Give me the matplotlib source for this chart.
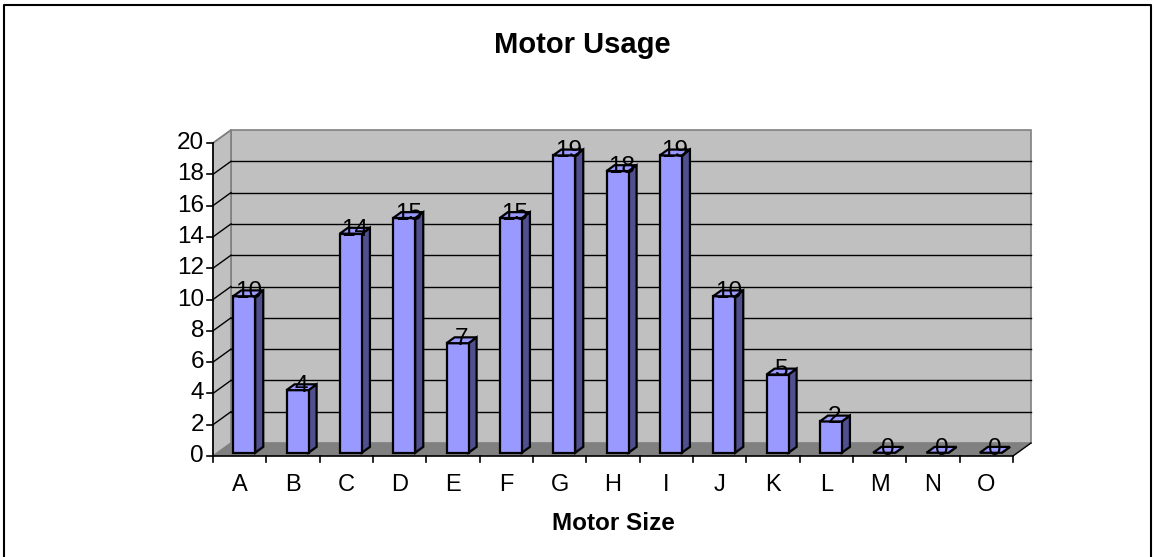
import matplotlib
matplotlib.use("Agg")
import matplotlib.pyplot as plt
from matplotlib.patches import Polygon

plt.rcParams['font.family'] = ['Liberation Sans', 'DejaVu Sans']

categories = ["A", "B", "C", "D", "E", "F", "G", "H", "I", "J", "K", "L", "M", "N", "O"]
values = [10, 4, 14, 15, 7, 15, 19, 18, 19, 10, 5, 2, 0, 0, 0]
yticks = [0, 2, 4, 6, 8, 10, 12, 14, 16, 18, 20]
title = "Motor Usage"
xlabel = "Motor Size"

W, H = 1154, 557
fig = plt.figure(figsize=(W / 100, H / 100), dpi=100)
ax = fig.add_axes([0, 0, 1, 1])

# pixel mapping of the plot frame
px0, px1 = 213, 1013      # front x-axis extent
py0, py20 = 456, 143      # y=0 and y=20 pixel rows
n = len(categories)
ymax = 20
sx = (px1 - px0) / n
sy = (py0 - py20) / ymax
ax.set_xlim(-px0 / sx, (W - px0) / sx)
ax.set_ylim(-(H - py0) / sy, py0 / sy)
ax.axis('off')

# depth offsets in data units
dx = 18 / sx
dy = 13 / sy

wall = '#c0c0c0'
floor = '#808080'
# back wall
ax.add_patch(Polygon([(dx, dy), (n + dx, dy), (n + dx, ymax + dy), (dx, ymax + dy)],
                     closed=True, fc=wall, ec='#808080', lw=1.2, zorder=1))
# side wall
ax.add_patch(Polygon([(0, 0), (dx, dy), (dx, ymax + dy), (0, ymax)],
                     closed=True, fc=wall, ec='#808080', lw=1.2, zorder=1))
# floor
ax.add_patch(Polygon([(0, 0), (n, 0), (n + dx, dy), (dx, dy)],
                     closed=True, fc=floor, ec='none', zorder=1.5))
ax.plot([n, n + dx], [0, dy], color='black', lw=1, zorder=2)

# gridlines and wall tick diagonals
for v in yticks[1:-1]:
    ax.plot([dx, n + dx], [v + dy, v + dy], color='black', lw=1, zorder=2)
for v in yticks[1:]:
    ax.plot([0, dx], [v, v + dy], color='black' if v < ymax else '#808080', lw=1, zorder=2)

# axes lines
ax.plot([0, 0], [0, ymax], color='black', lw=1.2, zorder=3)
ax.plot([0, n], [0, 0], color='black', lw=1.2, zorder=3)
tk = 6 / sx
for v in yticks:
    ax.plot([-tk, 0], [v, v], color='black', lw=1.2, zorder=3)
    ax.text(-9 / sx, v, str(v), ha='right', va='center', fontsize=17.5, zorder=3)
tky = 6 / sy
for i in range(n + 1):
    ax.plot([i, i], [0, -tky], color='black', lw=1.2, zorder=3)
for i, c in enumerate(categories):
    ax.text(i + 0.5, -29 / sy, c, ha='center', va='center', fontsize=17, zorder=3)

# bars
f0, f1 = 0.25, 0.70
bw = 22 / sx
front_c = '#9999ff'
side_c = '#50508f'
top_c = '#9999ff'
for i, v in enumerate(values):
    xl = i + 0.5 - bw / 2 + f0 * dx
    xr = xl + bw
    yb = f0 * dy
    yt = yb + v
    ddx = (f1 - f0) * dx
    ddy = (f1 - f0) * dy
    # side
    ax.add_patch(Polygon([(xr, yb), (xr + ddx, yb + ddy), (xr + ddx, yt + ddy), (xr, yt)],
                         closed=True, fc=side_c, ec='black', lw=1.6, zorder=4))
    # front
    if v > 0:
        ax.add_patch(Polygon([(xl, yb), (xr, yb), (xr, yt), (xl, yt)],
                             closed=True, fc=front_c, ec='black', lw=1.6, zorder=4))
    # top
    ax.add_patch(Polygon([(xl, yt), (xr, yt), (xr + ddx, yt + ddy), (xl + ddx, yt + ddy)],
                         closed=True, fc=top_c, ec='black', lw=1.6, zorder=4))
    ax.text(i + 0.5 + (f0 + f1) / 2 * dx, yt - 2 / sy, str(v), ha='center', va='baseline',
            fontsize=17.5, zorder=5)

# titles
fig.text(582 / W, 1 - 45 / H, title, ha='center', va='center', fontsize=21, fontweight='bold')
fig.text(613 / W, 1 - 524 / H, xlabel, ha='center', va='center', fontsize=17.5, fontweight='bold')

# outer border (left, top, right)
fig.add_artist(plt.Line2D([4 / W, 4 / W, 1151 / W, 1151 / W], [0, 1 - 5 / H, 1 - 5 / H, 0],
                          transform=fig.transFigure, color='black', lw=1.5))

fig.savefig('out.png', dpi=100)
